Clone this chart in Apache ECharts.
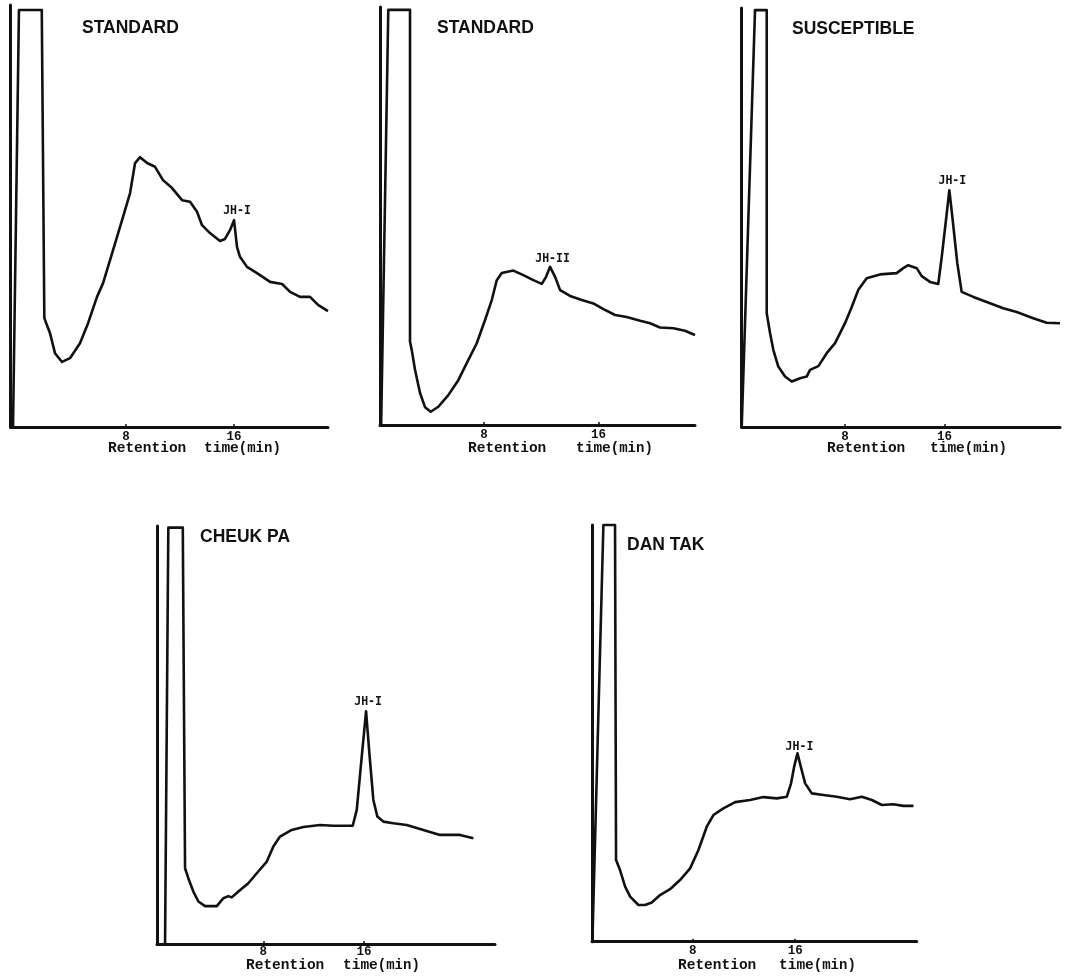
<!DOCTYPE html>
<html>
<head>
<meta charset="utf-8">
<script src="https://cdn.jsdelivr.net/npm/echarts@6/dist/echarts.min.js"></script>
<style>
html,body{margin:0;padding:0;background:#fff;}
#chart{width:1069px;height:977px;}
</style>
</head>
<body>
<div id="chart"></div>
<script>
// ---------------- data ----------------
const titles = ['STANDARD', 'STANDARD', 'SUSCEPTIBLE', 'CHEUK PA', 'DAN TAK'];
const tickValues = [8, 16];
const axisWord1 = 'Retention';
const axisWord2 = 'time';
const axisUnit = '(min)';
const peakNames = ['JH-I', 'JH-II', 'JH-I', 'JH-I', 'JH-I'];
const peakTimes = [16.0, 12.62, 16.38, 16.17, 16.18];

// retention time (min) and detector response (% of full scale)
const t1 = [-0.37, 0.07, 1.76, 1.95, 2.37, 2.74, 3.26, 3.85, 4.59, 5.19, 5.85, 6.30, 7.04, 7.78, 8.30, 8.67, 9.04, 9.56, 10.15, 10.74, 11.41, 12.15, 12.74, 13.26, 13.63, 14.22, 14.96, 15.33, 15.70, 16.0, 16.22, 16.44, 16.96, 17.70, 18.67, 19.56, 20.15, 20.89, 21.63, 22.22, 22.96];
const s1 = [0, 100, 100, 26.1, 22.5, 17.7, 15.6, 16.5, 20.1, 24.9, 31.2, 34.5, 42.4, 50.4, 56.1, 63.3, 64.7, 63.3, 62.4, 59.2, 57.3, 54.4, 54.0, 51.6, 48.4, 46.5, 44.6, 45.1, 47.2, 49.6, 43.2, 40.8, 38.4, 36.9, 34.8, 34.3, 32.4, 31.2, 31.2, 29.3, 27.8];

const t2 = [0.80, 1.30, 2.82, 2.82, 2.94, 3.17, 3.52, 3.87, 4.27, 4.80, 5.50, 6.20, 6.79, 7.49, 8.07, 8.54, 8.89, 9.24, 10.05, 10.75, 11.45, 12.04, 12.34, 12.62, 12.97, 13.32, 14.02, 14.84, 15.65, 16.35, 17.17, 17.98, 18.92, 19.62, 20.31, 21.25, 22.06, 22.76];
const s2 = [0, 100, 100, 20.1, 18.1, 13.3, 7.7, 4.3, 3.2, 4.4, 7.2, 10.8, 14.9, 19.7, 25.3, 30.1, 34.9, 36.6, 37.2, 36.1, 34.9, 34.0, 35.7, 38.1, 35.7, 32.5, 31.1, 30.1, 29.3, 27.9, 26.5, 26.0, 25.1, 24.5, 23.5, 23.3, 22.7, 21.7];

const t3 = [-0.30, 0.77, 1.71, 1.71, 1.98, 2.24, 2.64, 3.18, 3.72, 4.39, 4.92, 5.19, 5.86, 6.53, 7.20, 8.00, 8.54, 9.07, 9.74, 10.81, 12.15, 12.68, 13.08, 13.76, 14.16, 14.83, 15.49, 15.77, 16.11, 16.38, 16.65, 17.02, 17.37, 18.31, 19.38, 20.71, 21.79, 23.12, 24.20, 25.27];
const s3 = [0, 100, 100, 27.3, 22.5, 18.5, 14.5, 12.1, 10.9, 11.7, 12.1, 13.7, 14.6, 17.7, 20.1, 24.9, 28.8, 32.9, 35.7, 36.6, 36.9, 38.1, 38.8, 38.1, 36.2, 34.8, 34.3, 40.8, 49.6, 56.8, 49.6, 39.3, 32.4, 31.2, 30.0, 28.5, 27.6, 26.1, 25.0, 24.9];

const t4 = [0.19, 0.45, 1.60, 1.78, 2.04, 2.44, 2.84, 3.37, 4.30, 4.83, 5.22, 5.49, 6.02, 6.81, 7.48, 8.28, 8.80, 9.33, 10.26, 11.18, 12.51, 13.57, 15.11, 15.43, 15.83, 16.17, 16.43, 16.75, 17.07, 17.54, 18.34, 19.40, 20.72, 22.05, 23.64, 24.70];
const s4 = [0, 100, 100, 18.2, 15.8, 12.6, 10.2, 9.1, 9.1, 11.0, 11.5, 11.2, 12.6, 14.6, 17.0, 19.8, 23.4, 25.8, 27.4, 28.1, 28.6, 28.4, 28.4, 32.2, 45.1, 55.9, 45.9, 34.6, 30.6, 29.4, 29.0, 28.6, 27.4, 26.2, 26.2, 25.4];

const t5 = [0.15, 1.01, 1.92, 2.0, 2.31, 2.71, 3.10, 3.75, 4.27, 4.79, 5.44, 6.22, 7.00, 7.79, 8.44, 9.09, 9.61, 10.39, 11.31, 12.48, 13.52, 14.57, 15.35, 15.68, 15.92, 16.18, 16.44, 16.78, 17.30, 18.21, 19.26, 20.29, 21.21, 21.99, 22.78, 23.68, 24.46, 25.25];
const s5 = [0, 100, 100, 19.6, 17.2, 13.2, 10.8, 8.8, 8.8, 9.4, 11.2, 12.6, 14.8, 17.6, 22.0, 27.6, 30.4, 32.0, 33.5, 34.0, 34.7, 34.4, 34.8, 38.0, 42.0, 45.2, 42.0, 38.0, 35.6, 35.2, 34.8, 34.2, 34.8, 34.0, 32.8, 33.0, 32.6, 32.6];

const times = [t1, t2, t3, t4, t5];
const signals = [s1, s2, s3, s4, s5];

// ---------------- layout (pixels) ----------------
const layout = [
  {left: 10.5, top: 5, width: 317.5, height: 422, xMin: -0.556, xMax: 22.96, yMax: 101.2, labelMargin: 3,
   title: [82, 28.5], name: [108, 204, 448.5], peakOff: [3, -9]},
  {left: 380, top: 7, width: 315, height: 418, xMin: 0.72, xMax: 22.76, yMax: 100.7, labelMargin: 3,
   title: [437, 28], name: [468, 576, 448.5], peakOff: [2.5, -8]},
  {left: 741.7, top: 8, width: 318.3, height: 419, xMin: -0.30, xMax: 25.27, yMax: 100.5, labelMargin: 3,
   title: [792, 29], name: [827, 930, 448.5], peakOff: [3, -9.5]},
  {left: 157, top: 526, width: 338, height: 418, xMin: -0.45, xMax: 26.42, yMax: 100.4, labelMargin: 1,
   title: [200, 537], name: [246, 343, 965], peakOff: [2, -9]},
  {left: 592, top: 525, width: 324.7, height: 416.7, xMin: 0.12, xMax: 25.5, yMax: 100, labelMargin: 3,
   title: [627, 545.5], name: [678, 779, 965.5], peakOff: [2, -6.5]}
];

const INK = '#111';
const grids = [], xAxes = [], yAxes = [], series = [], graphics = [];

layout.forEach((p, i) => {
  grids.push({left: p.left, top: p.top, width: p.width, height: p.height, containLabel: false});
  xAxes.push({
    type: 'value', gridIndex: i, min: p.xMin, max: p.xMax,
    axisLine: {show: true, onZero: false, lineStyle: {color: INK, width: 3}},
    axisTick: {show: true, customValues: tickValues, inside: true, length: 3, lineStyle: {color: INK, width: 1.5}},
    axisLabel: {show: true, customValues: tickValues, margin: p.labelMargin, color: INK,
      fontFamily: 'Liberation Mono', fontWeight: 'bold', fontSize: 12.5},
    splitLine: {show: false}
  });
  yAxes.push({
    type: 'value', gridIndex: i, min: 0, max: p.yMax,
    axisLine: {show: true, onZero: false, lineStyle: {color: INK, width: 3}},
    axisTick: {show: false}, axisLabel: {show: false}, splitLine: {show: false}
  });
  const data = times[i].map((t, k) => [t, signals[i][k]]);
  const pk = times[i].indexOf(peakTimes[i]);
  series.push({
    type: 'line', name: titles[i], xAxisIndex: i, yAxisIndex: i, data: data,
    showSymbol: false, clip: false, smooth: false,
    lineStyle: {color: INK, width: 2.6, join: 'round'},
    markPoint: {
      symbol: 'circle', symbolSize: 0, silent: true,
      data: [{coord: [peakTimes[i], signals[i][pk]],
        label: {show: true, position: 'inside', offset: p.peakOff, formatter: peakNames[i],
          color: INK, fontFamily: 'DejaVu Sans Mono', fontWeight: 'bold', fontSize: 11.5}}]
    }
  });
  graphics.push({
    type: 'text', x: p.title[0], y: p.title[1],
    style: {text: titles[i], fill: INK, fontFamily: 'Liberation Sans', fontWeight: 'bold', fontSize: 17.5,
      align: 'left', verticalAlign: 'middle'}
  });
  graphics.push({
    type: 'text', x: p.name[0], y: p.name[2],
    style: {text: axisWord1, fill: INK, fontFamily: 'Liberation Mono', fontWeight: 'bold', fontSize: 14.5,
      align: 'left', verticalAlign: 'middle'}
  });
  graphics.push({
    type: 'text', x: p.name[1], y: p.name[2],
    style: {text: '{a|' + axisWord2 + '}{b|' + axisUnit + '}', fill: INK, align: 'left', verticalAlign: 'middle',
      rich: {
        a: {fontFamily: 'Liberation Mono', fontWeight: 'bold', fontSize: 14.5, fill: INK},
        b: {fontFamily: 'Liberation Mono', fontWeight: 'bold', fontSize: 14, fill: INK}
      }}
  });
});

const chart = echarts.init(document.getElementById('chart'), null, {renderer: 'canvas'});
chart.setOption({
  backgroundColor: '#fff',
  animation: false,
  grid: grids,
  xAxis: xAxes,
  yAxis: yAxes,
  series: series,
  graphic: graphics
});
</script>
</body>
</html>
